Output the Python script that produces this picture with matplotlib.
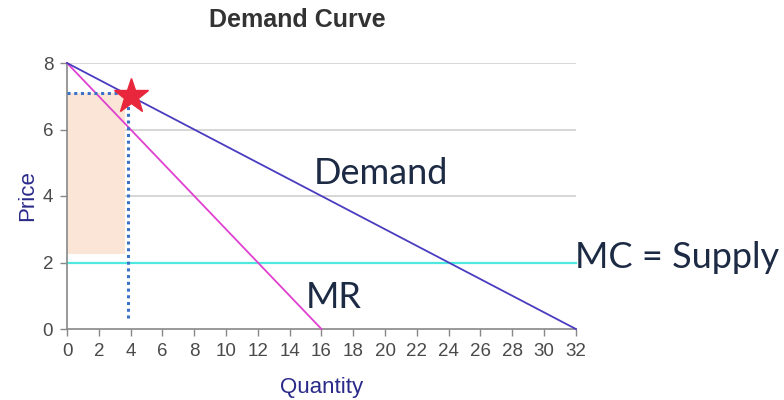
import matplotlib.pyplot as plt

# demand, marginal revenue and marginal cost
demand_q = [0, 32]
demand_p = [8, 0]
mr_q = [0, 16]
mr_p = [8, 0]
mc_q = [0, 32]
mc_p = [2, 2]

# profit-maximising point
opt_q = 4
opt_p = 7

# shaded profit area
profit_q = [0, 3.65]
profit_p_low = 2.25
profit_p_high = 7.1

x_ticks = list(range(0, 33, 2))
y_ticks = [0, 2, 4, 6, 8]

fig = plt.figure(figsize=(7.84, 4.0), dpi=100)
ax = fig.add_axes([0.0855, 0.1775, 0.649, 0.665])

ax.set_xlim(0, 32)
ax.set_ylim(0, 8)

for y in y_ticks[1:]:
    ax.axhline(y, color='#d0d0d0', lw=1.2, zorder=0)

ax.fill_between(profit_q, profit_p_low, profit_p_high, color='#fbe5d6', lw=0, zorder=1)

ax.plot(mc_q, mc_p, color='#4ee8e0', lw=1.6, zorder=2, clip_on=False)
ax.plot(mr_q, mr_p, color='#e040d0', lw=1.3, zorder=3, clip_on=False)
ax.plot(demand_q, demand_p, color='#4a3cc0', lw=1.3, zorder=3, clip_on=False)

ax.plot([0, 3.2], [profit_p_high, profit_p_high], color='#3a72c8', lw=2.2,
        linestyle=(0, (1, 1.2)), zorder=4)
ax.plot([3.85, 3.85], [0.33, 6.7], color='#3a72c8', lw=2.2,
        linestyle=(0, (1, 1.2)), zorder=4)

ax.plot(opt_q, opt_p, marker='*', color='#e8263c', ms=26, zorder=5, clip_on=False)

for side in ['top', 'right']:
    ax.spines[side].set_visible(False)
for side in ['left', 'bottom']:
    ax.spines[side].set_color('#888888')
    ax.spines[side].set_linewidth(1.2)

ax.set_xticks(x_ticks)
ax.set_yticks(y_ticks)
ax.tick_params(colors='#888888', labelcolor='#4a4a4a', labelsize=13.5,
               length=5, width=1, pad=5)
for lbl in ax.get_xticklabels() + ax.get_yticklabels():
    lbl.set_family('Liberation Sans')

ax.set_xlabel('Quantity', family='Liberation Sans', fontsize=16,
              color='#2a2a8a', labelpad=12)
ax.set_ylabel('Price', family='Liberation Sans', fontsize=16,
              color='#2a2a8a', labelpad=3)

fig.text(0.379, 0.95, 'Demand Curve', family='Liberation Sans', fontsize=18,
         fontweight='bold', color='#333333', ha='center', va='center')

label_kw = dict(family='Lato', fontsize=26, color='#1c2a44')
fig.text(314 / 784, 1 - 184 / 400, 'Demand', ha='left', va='baseline', **label_kw)
fig.text(306 / 784, 1 - 308 / 400, 'MR', ha='left', va='baseline', **label_kw)
fig.text(575 / 784, 1 - 268 / 400, 'MC = Supply', ha='left', va='baseline', **label_kw)

fig.savefig('out.png', dpi=100)
